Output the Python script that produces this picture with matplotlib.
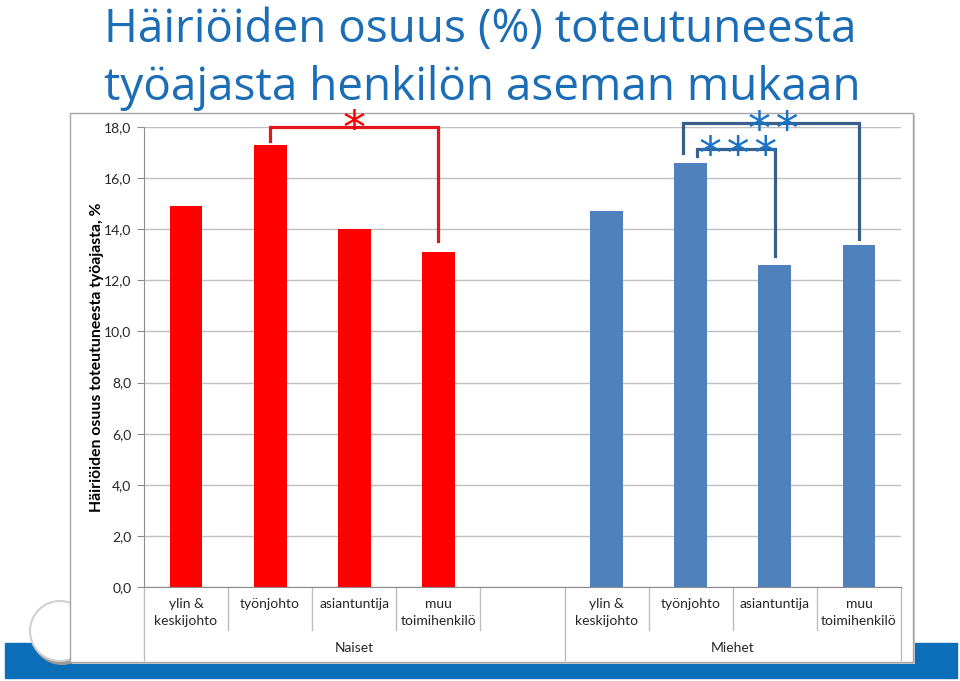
import matplotlib
matplotlib.use("Agg")
import matplotlib.pyplot as plt
from matplotlib.patches import Rectangle, Circle
from matplotlib.ticker import FuncFormatter

plt.rcParams["font.family"] = ["Lato", "DejaVu Sans"]

# ─────────────────────────────────────────────
# data
# ─────────────────────────────────────────────
roles = ["ylin &\nkeskijohto", "työnjohto", "asiantuntija", "muu\ntoimihenkilö"]
groups = ["Naiset", "Miehet"]
naiset = [14.9, 17.3, 14.0, 13.1]
miehet = [14.7, 16.6, 12.6, 13.4]
yticks = [0, 2, 4, 6, 8, 10, 12, 14, 16, 18]

# significance brackets: (role index a, role index b, stars)
sig_naiset = [(1, 3, "*")]
sig_miehet = [(1, 3, "**"), (1, 2, "***")]

RED = "#ff0000"
BLUE = "#4f81bd"
TITLE_BLUE = "#1b6db5"
BRACKET_BLUE = "#3b5f8c"
STAR_BLUE = "#1a72c6"
GRID = "#c0c0c0"
TXT = "#262626"
HAIR = "\u200a"

# x positions: 4 naiset slots + 1 empty slot + 4 miehet slots
x_n = [i for i in range(len(roles))]
x_m = [i + len(roles) + 1 for i in range(len(roles))]

fig = plt.figure(figsize=(9.6, 6.81), dpi=100, facecolor="white")

# ───── slide background (pixel coords) ─────
bg = fig.add_axes([0, 0, 1, 1])
bg.set_xlim(0, 960)
bg.set_ylim(681, 0)
bg.axis("off")
bg.add_patch(Rectangle((5, 643), 952, 35, color="#0a6fb8", zorder=1))
bg.add_patch(Circle((62, 634), 31, facecolor="#9a9a9a", edgecolor="none", zorder=2))
bg.add_patch(Circle((60, 631), 30, facecolor="white", edgecolor="#d0d0d0", lw=1.5, zorder=3))
bg.add_patch(Rectangle((72, 115), 843, 549, facecolor="#c8c8c8", edgecolor="none", zorder=4))
bg.add_patch(Rectangle((70, 113), 843, 549, facecolor="white", edgecolor="#a6a6a6", lw=1, zorder=5))

bg.text(104, 42, "Häiriöiden osuus (%) toteutuneesta", color=TITLE_BLUE,
        fontsize=33, family=["Open Sans", "DejaVu Sans"], va="baseline", zorder=6)
bg.text(104, 100, "työajasta henkilön aseman mukaan", color=TITLE_BLUE,
        fontsize=33, family=["Open Sans", "DejaVu Sans"], va="baseline", zorder=6)

# ───── chart ─────
ax = fig.add_axes([144 / 960, 1 - 587 / 681, 757 / 960, 460 / 681])
ax.patch.set_alpha(0)
w = 0.39
ax.bar(x_n, naiset, width=w, color=RED, zorder=3)
ax.bar(x_m, miehet, width=w, color=BLUE, zorder=3)

ax.set_xlim(-0.5, x_m[-1] + 0.5)
ax.set_ylim(0, 18)
ax.set_yticks(yticks)
ax.yaxis.set_major_formatter(FuncFormatter(lambda v, p: f"{v:.1f}".replace(".", ",")))
ax.tick_params(axis="y", length=5, color="#8c8c8c", labelsize=10, labelcolor=TXT, pad=4)
ax.set_xticks([])
ax.grid(axis="y", color=GRID, lw=1, zorder=0)
for s in ["top", "right"]:
    ax.spines[s].set_visible(False)
ax.spines["left"].set_color("#8c8c8c")
ax.spines["bottom"].set_color("#8c8c8c")
ax.set_ylabel("Häiriöiden osuus toteutuneesta työajasta, %", fontsize=11.3,
              fontweight="bold", color="black", labelpad=0)

# multi-level category axis
tr = ax.get_xaxis_transform()
for xs in (x_n, x_m):
    for x, lab in zip(xs, roles):
        ax.text(x, -0.024, lab, transform=tr, ha="center", va="top",
                fontsize=10, color=TXT, linespacing=1.45)
n_slots = x_m[-1] + 1
for b in range(n_slots + 1):
    edge = b - 0.5
    long_line = b in (0, len(roles) + 1, n_slots)
    ax.plot([edge, edge], [0, -0.159 if long_line else -0.094], transform=tr,
            color="#bdbdbd", lw=1, clip_on=False)
ax.text((x_n[0] + len(roles)) / 2, -0.133, groups[0], transform=tr,
        ha="center", va="center", fontsize=10, color=TXT)
ax.text((x_m[0] + x_m[-1]) / 2, -0.133, groups[1], transform=tr,
        ha="center", va="center", fontsize=10, color=TXT)


def bracket(x0, x1, y_top, y0, y1, color):
    ax.plot([x0, x0, x1, x1], [y0, y_top, y_top, y1], color=color, lw=2.3,
            clip_on=False, zorder=4, solid_joinstyle="miter")


def stars_text(x, y, s, color):
    ax.text(x, y, HAIR.join(s), color=color, fontsize=33, ha="center",
            va="baseline", clip_on=False, zorder=5, family=["DejaVu Sans"])


# naiset: työnjohto vs muu
a, b, s = sig_naiset[0]
bracket(x_n[a], x_n[b], 18.0, naiset[a] + 0.15, naiset[b] + 0.45, "#e3151b")
stars_text((x_n[a] + x_n[b]) / 2, 18.0 - 0.62, s, RED)

# miehet: työnjohto vs muu (outer) and työnjohto vs asiantuntija (inner)
a, b, s = sig_miehet[0]
bracket(x_m[a] - 0.09, x_m[b], 18.17, miehet[a] + 0.4, miehet[b] + 0.2, BRACKET_BLUE)
stars_text(6.98, 18.17 - 0.85, s, STAR_BLUE)
a, b, s = sig_miehet[1]
bracket(x_m[a] + 0.08, x_m[b], 17.15, miehet[a] + 0.25, miehet[b] + 0.35, BRACKET_BLUE)
stars_text(6.56, 17.15 - 0.8, s, STAR_BLUE)

fig.savefig("out.png", dpi=100, facecolor="white")
